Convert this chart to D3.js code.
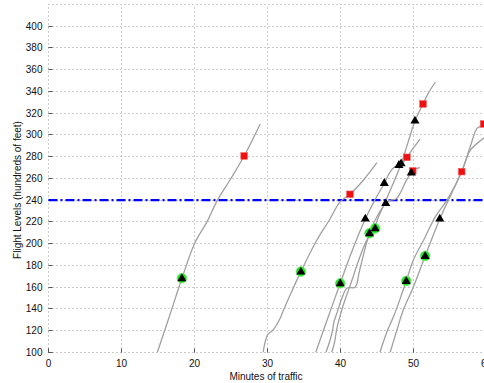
<!DOCTYPE html>
<html><head><meta charset="utf-8">
<script src="https://cdn.jsdelivr.net/npm/d3@7"></script>
<style>
html,body{margin:0;padding:0;background:#fff;overflow:hidden;}
text{font-family:"Liberation Sans",Arial,Helvetica,sans-serif;}
</style></head>
<body>
<svg id="c" width="484" height="383"></svg>
<script>
// ---- data ----
const xTicks = [0, 10, 20, 30, 40, 50, 60];
const yTicks = [100, 120, 140, 160, 180, 200, 220, 240, 260, 280, 300, 320, 340, 360, 380, 400];
const yGrid = [100, 120, 140, 160, 180, 200, 220, 240, 260, 280, 300, 320, 340, 360, 380, 400, 420];
const thresholdLevel = 240;
const xLabel = "Minutes of traffic";
const yLabel = "Flight Levels (hundreds of feet)";

const traj1 = [[14.9,100],[16.5,132],[18.27,168],[20.0,200],[21.7,220],[23.15,240],[24.9,259],[26.8,280.6],[29.0,310]];
const traj2 = [[29.4,100],[30.0,116],[30.8,121],[31.7,131],[32.2,139],[33.1,152.8],[34.57,174.3],[36.77,203.4],[38.5,222],[39.96,238.6],[41.3,245.4],[43.15,258.5],[44.98,274.4]];
const traj3 = [[36.6,100],[37.2,111.5],[38.6,138],[39.96,163.6],[41.5,192],[43.4,222.7],[44.7,240],[46.0,255.5],[46.8,266],[47.4,270.5],[48.2,272],[49.1,279.4],[50.0,288],[50.9,296]];
const traj4 = [[38.0,100],[38.6,112],[38.9,120],[39.1,128],[39.6,138],[40.2,150],[40.9,159.3],[42.0,160],[42.6,175],[43.97,209.6],[45.0,225],[46.2,237],[46.8,240],[47.6,241],[48.3,248],[49.0,258],[49.7,265],[50.2,268.5],[50.9,270]];
const traj5 = [[38.8,100],[39.2,110],[39.5,122],[40.0,135],[40.6,148],[41.5,165],[42.5,185],[43.6,203],[44.75,214.1],[45.0,221],[46.3,241],[48.3,273.3],[49.2,292],[50.2,312.8],[51.3,328.4],[52.0,338],[53.0,348.6]];
const traj6 = [[45.4,100],[46.3,118],[47.26,133],[48.2,150],[49.0,165.7],[50.0,185.3],[51.4,203.4],[53.0,224.8],[54.6,240.2],[56.6,266.2],[57.8,289.7],[58.7,306],[59.4,308.5],[59.6,309.5]];
const traj7 = [[46.8,100],[47.7,120],[48.6,139],[50.0,160.5],[51.6,188.7],[53.6,222.7],[55.0,243.2],[56.6,266.2],[57.8,286],[59.6,297],[61,305]];
const trajectories = [traj1, traj2, traj3, traj4, traj5, traj6, traj7];

const entryPoints = [[18.27,168.2],[34.57,174.3],[39.96,163.6],[43.97,209.6],[44.75,214.1],[49.0,165.7],[51.6,188.7]];
const eventPoints = [[43.4,222.7],[46.0,255.5],[46.2,237],[48.0,272],[48.3,273.5],[49.7,265],[50.2,312.8],[53.6,222.7]];
const exitPoints = [[26.8,280.6],[41.3,245.4],[49.1,279.4],[49.9,266.8],[51.3,328.4],[56.6,266.2],[59.6,310]];

// ---- chart ----
const svg = d3.select("#c");
const x = d3.scaleLinear().domain([0, 60]).range([48.5, 486.5]);
const y = d3.scaleLinear().domain([100, 420]).range([352.5, 4.3]);
const px = v => Math.round(v - 0.5) + 0.5;

svg.append("defs").append("clipPath").attr("id","clip")
  .append("rect").attr("x", x(0)).attr("y", y(420) - 1).attr("width", x(60)-x(0)).attr("height", y(100)-y(420) + 1);

// grid
const g = svg.append("g");
g.selectAll("line.gx").data(xTicks).join("line").attr("class","gx")
  .attr("x1", d => px(x(d))).attr("x2", d => px(x(d))).attr("y1", px(y(100))).attr("y2", px(y(420)))
  .attr("stroke", "#999").attr("stroke-width", 1).attr("stroke-dasharray", "1,3");
g.selectAll("line.gy").data(yGrid).join("line").attr("class","gy")
  .attr("x1", px(x(0))).attr("x2", px(x(60))).attr("y1", d => px(y(d))).attr("y2", d => px(y(d)))
  .attr("stroke", "#999").attr("stroke-width", 1).attr("stroke-dasharray", "1,3");

// axes (ticks only, inward)
const xAxis = d3.axisBottom(x).tickValues(xTicks).tickSize(-4).tickPadding(7).tickFormat(d3.format("d"));
const yAxis = d3.axisLeft(y).tickValues(yTicks).tickSize(-4).tickPadding(6).tickFormat(d3.format("d"));
const gx = svg.append("g").attr("transform", `translate(0,${px(y(100))})`).call(xAxis);
const gy = svg.append("g").attr("transform", `translate(${px(x(0))},0)`).call(yAxis);
[gx, gy].forEach(a => {
  a.select(".domain").remove();
  a.selectAll(".tick line").attr("stroke", "#555").attr("stroke-width", 1);
  a.selectAll(".tick text").attr("fill", "#111").style("font-size", "10px")
    .style("font-family", '"Liberation Sans",Arial,sans-serif');
});
gx.selectAll(".tick").attr("transform", d => `translate(${px(x(d))},0)`);
gy.selectAll(".tick").attr("transform", d => `translate(0,${px(y(d))})`);
// corner solid segments
svg.append("path").attr("d", `M${px(x(0))},${px(y(100))-4}V${px(y(100))}H${px(x(0))+4}`)
  .attr("fill","none").attr("stroke","#555");

// threshold line
svg.append("line").attr("x1", x(0)).attr("x2", x(60))
  .attr("y1", y(thresholdLevel)).attr("y2", y(thresholdLevel))
  .attr("stroke", "#0000ff").attr("stroke-width", 2.2).attr("stroke-dasharray", "9,3,2,3");

// trajectories
const plot = svg.append("g").attr("clip-path", "url(#clip)");
plot.selectAll("path.traj").data(trajectories).join("path").attr("class","traj")
  .attr("d", d3.line().x(d => x(d[0])).y(d => y(d[1])).curve(d3.curveCatmullRom.alpha(0.5)))
  .attr("fill", "none").attr("stroke", "#a0a0a0").attr("stroke-width", 1.3);

const tri = d3.symbol().type(d3.symbolTriangle).size(36);
// entry markers: green circle + black triangle
plot.selectAll("circle.entry").data(entryPoints).join("circle").attr("class","entry")
  .attr("cx", d => x(d[0])).attr("cy", d => y(d[1])).attr("r", 4.8)
  .attr("fill", "#22e622").attr("stroke", "#66ea66").attr("stroke-width", 0.8);
plot.selectAll("path.entryTri").data(entryPoints).join("path").attr("class","entryTri")
  .attr("d", tri).attr("transform", d => `translate(${x(d[0])},${y(d[1])+0.3})`).attr("fill", "#000");
// exit markers: red squares
plot.selectAll("rect.exit").data(exitPoints).join("rect").attr("class","exit")
  .attr("x", d => x(d[0]) - 3.3).attr("y", d => y(d[1]) - 3.3).attr("width", 6.6).attr("height", 6.6)
  .attr("fill", "#ee1111").attr("stroke", "#f35555").attr("stroke-width", 0.6);
// event markers: black triangles
plot.selectAll("path.event").data(eventPoints).join("path").attr("class","event")
  .attr("d", tri).attr("transform", d => `translate(${x(d[0])},${y(d[1])})`).attr("fill", "#000");

// labels
svg.append("text").attr("x", 266).attr("y", 380).attr("text-anchor", "middle")
  .style("font-size", "10px").attr("fill", "#111").text(xLabel);
svg.append("text").attr("transform", "translate(21,190) rotate(-90)").attr("text-anchor", "middle")
  .style("font-size", "10px").attr("fill", "#111").text(yLabel);
</script>
</body></html>
